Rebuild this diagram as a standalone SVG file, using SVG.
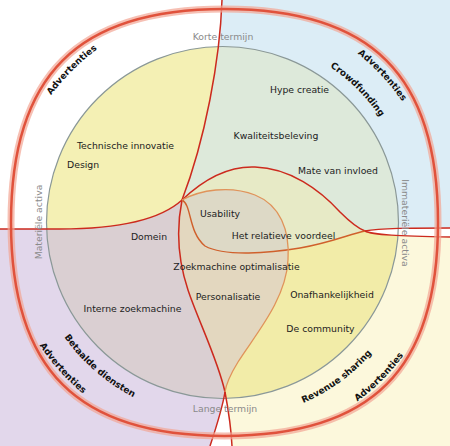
<svg xmlns="http://www.w3.org/2000/svg" width="450" height="446" viewBox="0 0 450 446">
<style>
.lbl{font-family:"DejaVu Sans",Verdana,sans-serif;font-size:9.3px;fill:#222}
.axis{font-family:"DejaVu Sans",Verdana,sans-serif;font-size:9.3px;fill:#8a8a8a}
.arc{font-family:"DejaVu Sans",Verdana,sans-serif;font-size:9px;font-weight:bold;fill:#111}
.red{fill:none;stroke:#cc2a1e;stroke-width:1.5}
.or1{fill:none;stroke:#d0602c;stroke-width:1.4}
.or2{fill:none;stroke:#e0935a;stroke-width:1.3}
.ringHalo{fill:none;stroke:#f2a594;stroke-width:7;opacity:0.7}
.ringCore{fill:none;stroke:#e0523c;stroke-width:2.5}
</style>
<defs>
<clipPath id="ic"><circle cx="222.5" cy="222.5" r="176"/></clipPath>
<clipPath id="lensClip"><path d="M182,200 C205,178 230,166 255,167 C290,168 320,190 340,212 C350,222 357,228 365,231 C350,234 330,243 300,248 C270,253 225,257 205,246 C188,232 192,205 182,200 Z"/></clipPath>
<path id="ringPath" d="M438,222.5 C438,369.8 371.8,436 224.5,436 C77.2,436 11,369.8 11,222.5 C11,75.2 77.2,9 224.5,9 C371.8,9 438,75.2 438,222.5 Z"/>
<path id="aTL" d="M10.3,203.8 A215,215 0 0 1 205.8,8.3"/>
<path id="aTR" d="M250.7,9.1 A215,215 0 0 1 439.2,211.2"/>
<path id="aCF" d="M240.9,35.2 A188,188 0 0 1 411.8,206.1"/>
<path id="aBD" d="M29.9,253.3 A197,197 0 0 0 221.1,419.5"/>
<path id="aBL" d="M2.6,230.3 A222,222 0 0 0 193.6,442.3"/>
<path id="aRS" d="M210.8,419.0 A197,197 0 0 0 415.7,270.2"/>
<path id="aBR" d="M243.9,444.6 A223,223 0 0 0 446.6,241.9"/>
</defs>
<rect width="450" height="446" fill="#ffffff"/>
<g id="background">
<path d="M222,0 C220,60 205,140 182,200 C205,178 230,166 255,167 C290,168 320,190 340,212 C350,222 357,228 365,231 C380,228 410,228 450,228 L450,0 Z" fill="#dcedf6"/>
<path d="M365,231 C372,235 400,236 450,237 L450,446 L232,446 C231,425 228,408 225,392 L300,300 Z" fill="#fcf8dc"/>
<path d="M0,229 L60,229 C120,229 160,220 182,200 L225,392 C222,410 216,428 210,446 L0,446 Z" fill="#e2d7eb"/>
</g>
<g id="inner" clip-path="url(#ic)">
<rect width="450" height="446" fill="#f2eca8"/>
<path d="M0,0 L222,0 C220,60 205,140 182,200 C160,220 120,229 60,229 L0,229 Z" fill="#f4f0b4"/>
<path d="M222,0 C220,60 205,140 182,200 C205,178 230,166 255,167 C290,168 320,190 340,212 C350,222 357,228 365,231 L450,231 L450,0 Z" fill="#dde9da"/>
<path d="M0,229 L60,229 C120,229 160,220 182,200 C176,230 178,260 188,290 C198,320 218,360 225,392 L225,446 L0,446 Z" fill="#dacfd2"/>
<path d="M182,200 C205,178 230,166 255,167 C290,168 320,190 340,212 C350,222 357,228 365,231 C350,234 330,243 300,248 C270,253 225,257 205,246 C188,232 192,205 182,200 Z" fill="#e7eac6"/>
<path d="M182,200 C200,190 230,185 255,195 C280,205 290,230 288,260 C286,300 255,335 238,362 C230,375 226,385 225,392 C218,360 198,320 188,290 C178,260 176,230 182,200 Z" fill="#e3d7bf"/>
<path d="M182,200 C200,190 230,185 255,195 C280,205 290,230 288,260 C286,300 255,335 238,362 C230,375 226,385 225,392 C218,360 198,320 188,290 C178,260 176,230 182,200 Z" fill="#ddd9c6" clip-path="url(#lensClip)"/>
</g>
<path d="M365,231 C380,228 410,228 450,228 L450,237 C400,236 372,235 365,231 Z" fill="#ffffff"/>
<path d="M225,392 C228,408 231,425 232,446 L210,446 C216,428 222,410 225,392 Z" fill="#ffffff"/>
<circle cx="222.5" cy="222.5" r="176" fill="none" stroke="#8a9898" stroke-width="1.2"/>
<g id="connectors">
<path class="red" d="M222,0 C220,60 205,140 182,200"/>
<path class="red" d="M182,200 C176,230 178,260 188,290 C198,320 218,360 225,392 C228,408 231,425 232,446"/>
<path class="red" d="M0,229 L60,229 C120,229 160,220 182,200"/>
<path class="red" d="M182,200 C205,178 230,166 255,167 C290,168 320,190 340,212 C350,222 357,228 365,231 C372,235 400,236 450,237"/>
<path class="or1" d="M182,200 C192,205 188,232 205,246 C225,257 270,253 300,248 C330,243 350,234 365,231"/>
<path class="red" d="M365,231 C380,228 410,228 450,228"/>
<path class="or2" d="M182,200 C200,190 230,185 255,195 C280,205 290,230 288,260 C286,300 255,335 238,362 C230,375 226,385 225,392"/>
<path class="red" d="M225,392 C222,410 216,428 210,446"/>
</g>
<g id="ring">
<use href="#ringPath" class="ringHalo"/>
<use href="#ringPath" class="ringCore"/>
</g>
<g id="axes">
<text class="axis" x="223" y="40" text-anchor="middle">Korte termijn</text>
<text class="axis" x="225" y="412" text-anchor="middle">Lange termijn</text>
<text class="axis" text-anchor="middle" transform="translate(42,222) rotate(-90)">Materiële activa</text>
<text class="axis" text-anchor="middle" transform="translate(402,223) rotate(90)">Immateriële activa</text>
</g>
<g id="n-technische"><text class="lbl" x="125.5" y="149" text-anchor="middle">Technische innovatie</text></g>
<g id="n-design"><text class="lbl" x="67" y="168">Design</text></g>
<g id="n-hype"><text class="lbl" x="299.5" y="93" text-anchor="middle">Hype creatie</text></g>
<g id="n-kwaliteit"><text class="lbl" x="276" y="139" text-anchor="middle">Kwaliteitsbeleving</text></g>
<g id="n-mate"><text class="lbl" x="338" y="174" text-anchor="middle">Mate van invloed</text></g>
<g id="n-usability"><text class="lbl" x="220" y="217" text-anchor="middle">Usability</text></g>
<g id="n-relatief"><text class="lbl" x="283.5" y="239" text-anchor="middle">Het relatieve voordeel</text></g>
<g id="n-domein"><text class="lbl" x="149" y="240" text-anchor="middle">Domein</text></g>
<g id="n-zoek"><text class="lbl" x="236.5" y="270" text-anchor="middle">Zoekmachine optimalisatie</text></g>
<g id="n-perso"><text class="lbl" x="228" y="300" text-anchor="middle">Personalisatie</text></g>
<g id="n-interne"><text class="lbl" x="132.5" y="312" text-anchor="middle">Interne zoekmachine</text></g>
<g id="n-onaf"><text class="lbl" x="332" y="298" text-anchor="middle">Onafhankelijkheid</text></g>
<g id="n-community"><text class="lbl" x="320.5" y="332" text-anchor="middle">De community</text></g>
<g id="arc-labels">
<text class="arc"><textPath href="#aTL" startOffset="50%" text-anchor="middle">Advertenties</textPath></text>
<text class="arc"><textPath href="#aTR" startOffset="50%" text-anchor="middle">Advertenties</textPath></text>
<text class="arc"><textPath href="#aCF" startOffset="50%" text-anchor="middle">Crowdfunding</textPath></text>
<text class="arc"><textPath href="#aBD" startOffset="50%" text-anchor="middle">Betaalde diensten</textPath></text>
<text class="arc"><textPath href="#aBL" startOffset="50%" text-anchor="middle">Advertenties</textPath></text>
<text class="arc"><textPath href="#aRS" startOffset="50%" text-anchor="middle">Revenue sharing</textPath></text>
<text class="arc"><textPath href="#aBR" startOffset="50%" text-anchor="middle">Advertenties</textPath></text>
</g>
</svg>
